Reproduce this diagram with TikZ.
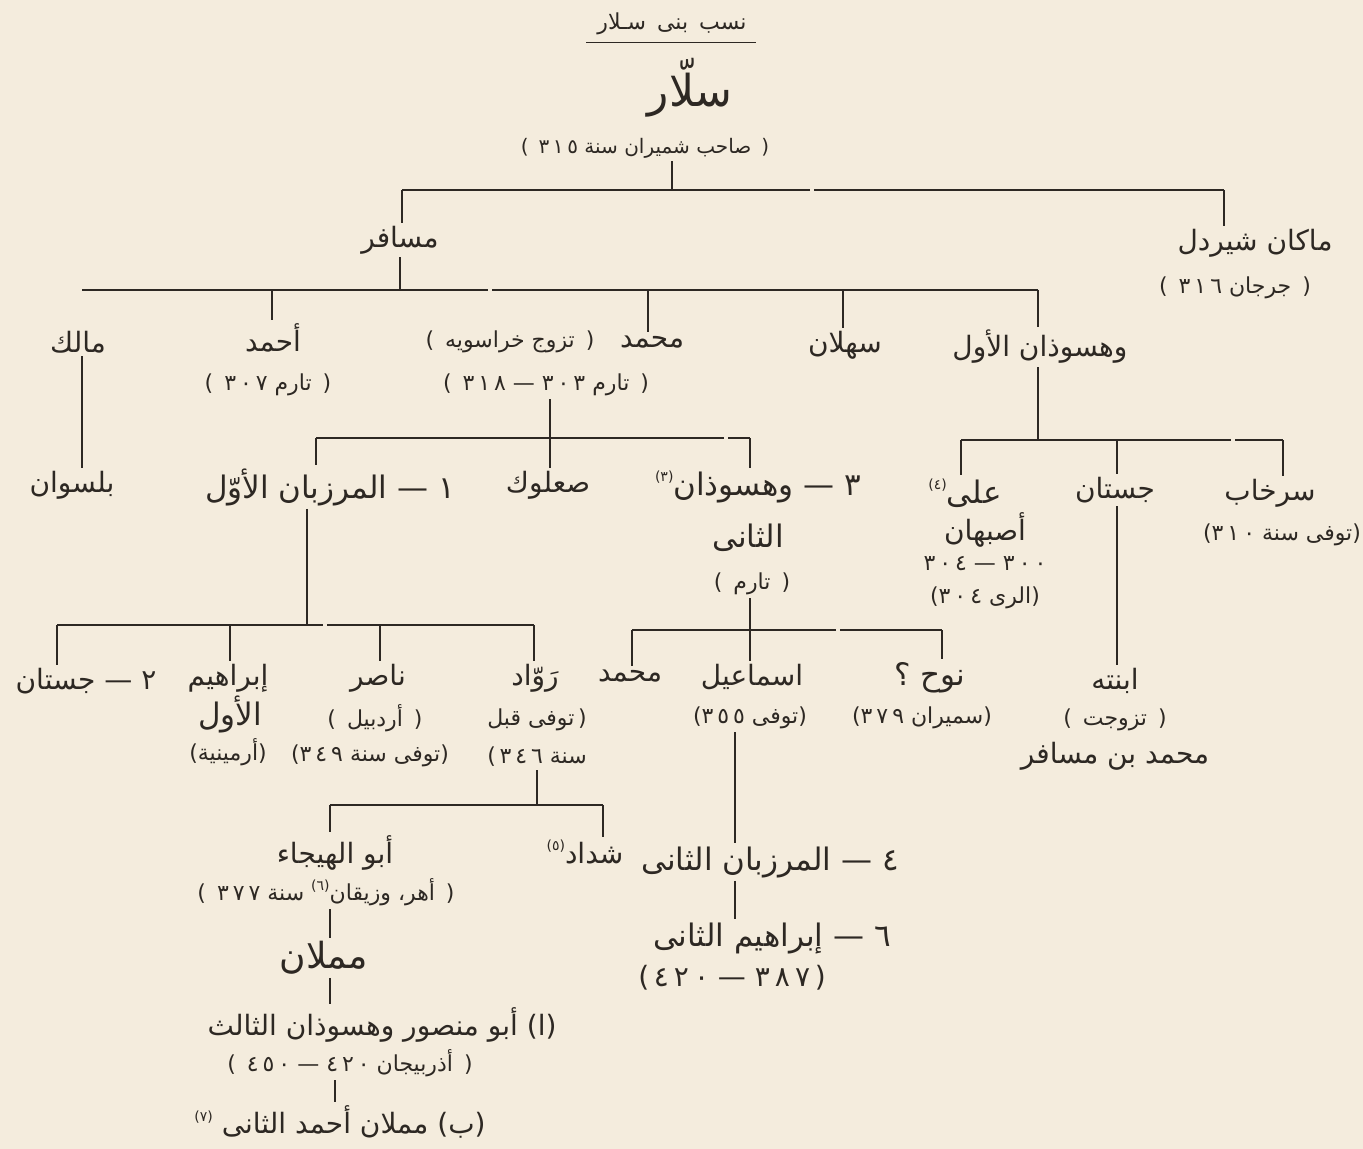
\documentclass[tikz,border=0pt]{standalone}
\usepackage{fontspec}
\newfontfamily\arabicfont[Script=Arabic]{DejaVu Sans}
\newfontfamily\parenfont{DejaVu Sans}
\TeXXeTstate=1
\usetikzlibrary{positioning}
\definecolor{PaperCream}{RGB}{244,236,221}
\definecolor{InkBrown}{RGB}{45,40,35}
\newcommand{\rtl}[1]{\beginR #1\endR}
\newcommand{\lp}{{\parenfont(}}
\newcommand{\rp}{{\parenfont)}}
\newcommand{\pn}[1]{\lp\enspace\rtl{#1}\enspace\rp}
\newcommand{\sd}[1]{{\addfontfeature{LetterSpace=18}#1}}
\newcommand{\fnm}[1]{\raisebox{0.8ex}{\fontsize{7}{8}\selectfont(#1)}}

\begin{document}
\begin{tikzpicture}[x=0.5pt,y=-0.5pt,
    every node/.style={text=InkBrown,inner sep=1.5pt},
    person/.style={font=\arabicfont\fontsize{14}{16}\selectfont},
    bigname/.style={font=\arabicfont\fontsize{15.5}{18}\selectfont},
    note/.style={font=\arabicfont\fontsize{11}{13}\selectfont},
    link/.style={draw=InkBrown,line width=0.9pt}]
  \fill[PaperCream] (0,0) rectangle (1363,1149);
  \useasboundingbox (0,0) rectangle (1363,1149);

  % head of the house
  \node[note] (title) at (672,24) {\rtl{نسب\enspace بنى\enspace سـلار}};
  \draw[link,line width=0.5pt] ([xshift=-4pt,yshift=-2pt]title.south west) -- ([xshift=3pt,yshift=-2pt]title.south east);
  \node[font=\arabicfont\fontsize{22}{24}\selectfont] (salar) at (690,88) {\rtl{سلّار}};
  \node[note,font=\arabicfont\fontsize{10}{12}\selectfont] (salar-n) at (645,148) {\pn{صاحب شميران سنة \sd{٣١٥}}};

  \node[person] (musafir) at (400,240) {\rtl{مسافر}};
  \node[person] (makan) at (1255,243) {\rtl{ماكان شيردل}};
  \node[note] (makan-n) at (1235,288) {\pn{جرجان \sd{٣١٦}}};

  \node[person] (malik) at (78,342) {\rtl{مالك}};
  \node[person] (ahmad) at (273,338) {\rtl{أحمد}};
  \node[note] (ahmad-n) at (268,385) {\pn{تارم \sd{٣٠٧}}};
  \node[person] (muh) at (652,342) {\rtl{محمد}};
  \node[note] (muh-n) at (510,342) {\pn{تزوج خراسويه}};
  \node[note] (muh-n2) at (546,385) {\pn{تارم \sd{٣٠٣} — \sd{٣١٨}}};
  \node[person] (sahlan) at (845,345) {\rtl{سهلان}};
  \node[person] (wahs1) at (1040,347) {\rtl{وهسوذان الأول}};

  \node[person] (balsawan) at (72,485) {\rtl{بلسوان}};
  \node[bigname] (marz1) at (330,487) {\rtl{١ — المرزبان الأوّل}};
  \node[person] (saluk) at (548,485) {\rtl{صعلوك}};
  \node[bigname] (wahs2) at (758,487) {\rtl{٣ — وهسوذان\fnm{٣}}};
  \node[bigname] (wahs2-b) at (748,538) {\rtl{الثانى}};
  \node[note] (wahs2-n) at (752,584) {\pn{تارم}};

  \node[bigname] (ali) at (965,493) {\rtl{على\fnm{٤}}};
  \node[person] (isfahan) at (985,530) {\rtl{أصبهان}};
  \node[note] (ali-n) at (985,564) {\rtl{\sd{٣٠٠} — \sd{٣٠٤}}};
  \node[note] (ali-n2) at (985,598) {\lp\rtl{الرى \sd{٣٠٤}}\rp};
  \node[person] (justan1) at (1115,490) {\rtl{جستان}};
  \node[person] (sarkhab) at (1270,493) {\rtl{سرخاب}};
  \node[note] (sarkhab-n) at (1282,535) {\lp\rtl{توفى سنة \sd{٣١٠}}\rp};
  \node[person] (bint) at (1115,681) {\rtl{ابنته}};
  \node[note] (bint-n) at (1115,720) {\pn{تزوجت}};
  \node[person] (bint-h) at (1115,756) {\rtl{محمد بن مسافر}};

  \node[person] (justan2) at (86,681) {\rtl{٢ — جستان}};
  \node[person] (ibr1) at (228,678) {\rtl{إبراهيم}};
  \node[bigname] (ibr1-b) at (230,714) {\rtl{الأول}};
  \node[note] (ibr1-n) at (228,752) {\lp\rtl{أرمينية}\rp};
  \node[person] (nasir) at (378,678) {\rtl{ناصر}};
  \node[note] (nasir-n) at (375,718) {\pn{أردبيل}};
  \node[note] (nasir-n2) at (370,756) {\lp\rtl{توفى سنة \sd{٣٤٩}}\rp};
  \node[person] (rawwad) at (535,678) {\rtl{رَوّاد}};
  \node[note] (rawwad-n) at (537,720) {\rtl{توفى قبل}\,\rp};
  \node[note] (rawwad-n2) at (537,757) {\lp\,\rtl{سنة \sd{٣٤٦}}};

  \node[person] (muh2) at (630,676) {\rtl{محمد}};
  \node[person] (ismail) at (752,677) {\rtl{اسماعيل}};
  \node[note] (ismail-n) at (750,718) {\lp\rtl{توفى \sd{٣٥٥}}\rp};
  \node[bigname] (nuh) at (930,678) {\rtl{نوح ؟}};
  \node[note] (nuh-n) at (922,718) {\lp\rtl{سميران \sd{٣٧٩}}\rp};

  \node[person] (hayja) at (335,853) {\rtl{أبو الهيجاء}};
  \node[note] (hayja-n) at (326,892) {\pn{أهر، وزيقان\fnm{٦} سنة \sd{٣٧٧}}};
  \node[person] (shaddad) at (585,852) {\rtl{شداد\fnm{٥}}};
  \node[bigname] (marz2) at (770,862) {\rtl{٤ — المرزبان الثانى}};
  \node[bigname] (ibr2) at (772,938) {\rtl{٦ — إبراهيم الثانى}};
  \node[person] (ibr2-n) at (732,978) {\lp\,\rtl{\sd{٣٨٧} — \sd{٤٢٠}}\,\rp};
  \node[font=\arabicfont\fontsize{18}{20}\selectfont] (mamlan) at (324,958) {\rtl{مملان}};
  \node[person] (wahs3) at (382,1025) {\rtl{(ا) أبو منصور وهسوذان الثالث}};
  \node[note] (wahs3-n) at (350,1063) {\pn{أذربيجان \sd{٤٢٠} — \sd{٤٥٠}}};
  \node[person] (ahmad2) at (340,1122) {\rtl{(ب) مملان أحمد الثانى \fnm{٧}}};

  % bars
  \coordinate (j1) at (672,190); \coordinate (j1a) at (402,190); \coordinate (j1b) at (1224,190);
  \coordinate (j2) at (400,290); \coordinate (j2a) at (82,290); \coordinate (j2b) at (272,290);
  \coordinate (j2c) at (648,290); \coordinate (j2d) at (843,290); \coordinate (j2e) at (1038,290);
  \coordinate (j3) at (550,438); \coordinate (j3a) at (316,438); \coordinate (j3c) at (750,438);
  \coordinate (j4) at (307,625); \coordinate (j4a) at (57,625); \coordinate (j4b) at (230,625);
  \coordinate (j4c) at (380,625); \coordinate (j4d) at (534,625);
  \coordinate (j5) at (1038,440); \coordinate (j5a) at (961,440); \coordinate (j5b) at (1117,440);
  \coordinate (j5c) at (1283,440);
  \coordinate (j6) at (537,805); \coordinate (j6a) at (330,805); \coordinate (j6b) at (603,805);
  \coordinate (j7) at (750,630); \coordinate (j7a) at (632,630); \coordinate (j7c) at (942,630);
  \coordinate (t7) at (735,850); \coordinate (t6) at (330,950); \coordinate (t6b) at (335,1090);

  \draw[link] (salar-n.south -| j1) -- (j1);
  \draw[link] (j1a) -- ++(408,0) ++(4,0) -- (j1b);
  \draw[link] (musafir.south -| j2) -- (j2);
  \draw[link] (j2a) -- ++(406,0) ++(4,0) -- (j2e);
  \draw[link] (muh-n2.south -| j3) -- (j3);
  \draw[link] (j3a) -- ++(408,0) ++(4,0) -- (j3c);
  \draw[link] (wahs1.south -| j5) -- (j5);
  \draw[link] (j5a) -- ++(270,0) ++(4,0) -- (j5c);
  \draw[link] (marz1.south -| j4) -- (j4);
  \draw[link] (j4a) -- ++(266,0) ++(4,0) -- (j4d);
  \draw[link] (wahs2-n.south -| j7) -- (j7);
  \draw[link] (j7a) -- ++(204,0) ++(4,0) -- (j7c);
  \draw[link] (rawwad-n2.south -| j6) -- (j6);
  \draw[link] (j6a) -- (j6b);
  \foreach \j/\n in {j1a/musafir,j1b/makan,j2b/ahmad,j2c/muh,j2d/sahlan,j2e/wahs1,
      j3a/marz1,j3/saluk,j3c/wahs2,j5a/ali,j5b/justan1,j5c/sarkhab,
      j4a/justan2,j4b/ibr1,j4c/nasir,j4d/rawwad,j7a/muh2,j7/ismail,j7c/nuh,
      j6a/hayja,j6b/shaddad}
    \draw[link] (\j) -- (\j |- \n.north);

  % single lines of descent
  \draw[link] (malik.south -| j2a) -- (j2a |- balsawan.north);
  \draw[link] (justan1.south -| j5b) -- (j5b |- bint.north);
  \draw[link] (ismail-n.south -| t7) -- (t7 |- marz2.north);
  \draw[link] (marz2.south -| t7) -- (t7 |- ibr2.north);
  \draw[link] (hayja-n.south -| t6) -- (t6 |- mamlan.north);
  \draw[link] (mamlan.south -| t6) -- (t6 |- wahs3.north);
  \draw[link] (wahs3-n.south -| t6b) -- (t6b |- ahmad2.north);
\end{tikzpicture}
\end{document}
